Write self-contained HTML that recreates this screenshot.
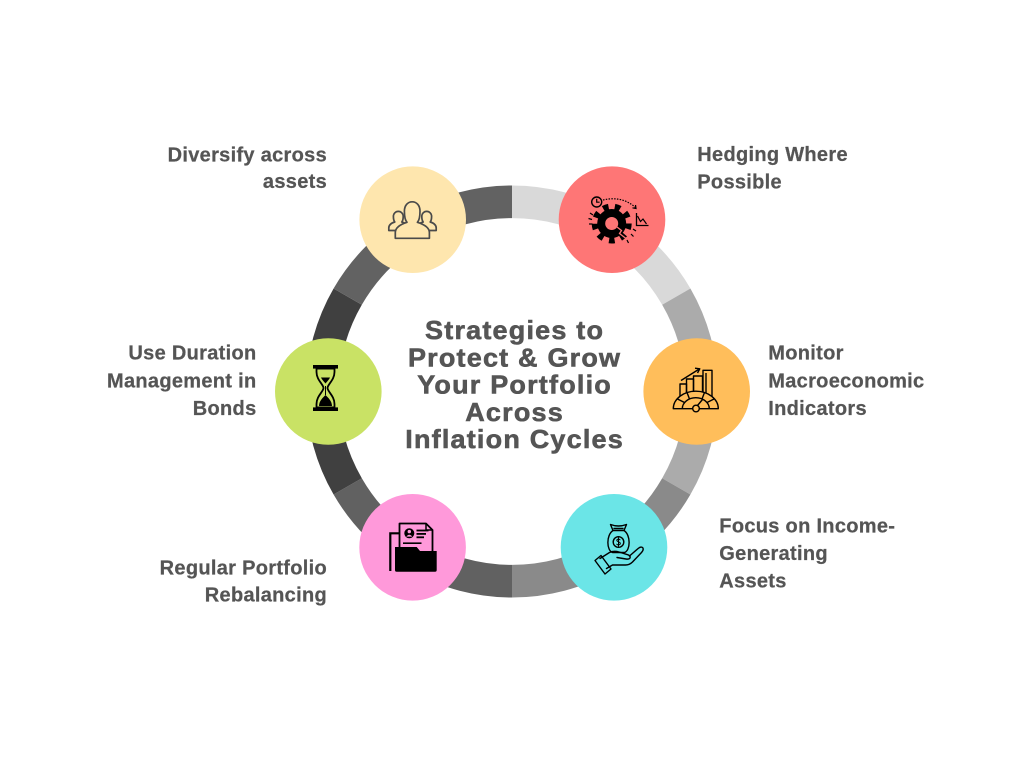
<!DOCTYPE html>
<html>
<head>
<meta charset="utf-8">
<style>
  html,body{margin:0;padding:0;background:#ffffff;}
  body{width:1024px;height:768px;overflow:hidden;}
  svg{display:block;}
  .lbl{font-family:"Liberation Sans",Arial,sans-serif;font-weight:bold;font-size:20px;fill:#555555;letter-spacing:0.3px;stroke:#555555;stroke-width:0.25px;}
  .ttl{font-family:"Liberation Sans",Arial,sans-serif;font-weight:bold;font-size:27px;fill:#555555;letter-spacing:1.2px;stroke:#555555;stroke-width:0.6px;}
</style>
</head>
<body>
<svg width="1024" height="768" viewBox="0 0 1024 768" xmlns="http://www.w3.org/2000/svg">
  <rect width="1024" height="768" fill="#ffffff"/>

  <!-- Ring segments (center 512,391.5 r 189.7) -->
  <g fill="none" stroke-width="32.6">
    <path d="M512 201.8 A189.7 189.7 0 0 1 676.3 296.65" stroke="#d9d9d9"/>
    <path d="M676.3 296.65 A189.7 189.7 0 0 1 676.3 486.35" stroke="#ababab"/>
    <path d="M676.3 486.35 A189.7 189.7 0 0 1 512 581.2" stroke="#8a8a8a"/>
    <path d="M512 581.2 A189.7 189.7 0 0 1 347.7 486.35" stroke="#616161"/>
    <path d="M347.7 486.35 A189.7 189.7 0 0 1 347.7 296.65" stroke="#404040"/>
    <path d="M347.7 296.65 A189.7 189.7 0 0 1 512 201.8" stroke="#626262"/>
  </g>

  <!-- Node circles -->
  <circle cx="412.7" cy="219.7" r="53.3" fill="#fee6ae"/>
  <circle cx="612" cy="219.7" r="53.3" fill="#fe7676"/>
  <circle cx="696.7" cy="391.5" r="53.3" fill="#ffbe5b"/>
  <circle cx="614" cy="547.3" r="53.3" fill="#6be5e7"/>
  <circle cx="412.6" cy="547.3" r="53.3" fill="#ff99da"/>
  <circle cx="328.3" cy="391.5" r="53.3" fill="#c9e265"/>

  <!-- Yellow: people icon -->
  <g stroke="#4a4a4a" stroke-width="1.7" fill="#fee6ae" stroke-linejoin="round">
    <path d="M396 230.5 H388.8 V228 C388.8 224.8 391.5 223 394.8 222 C393.6 220.5 393.4 218.5 393.4 216.5 C393.4 213.5 395.6 211.4 398.3 211.4 C401 211.4 403.2 213.5 403.2 216.5 C403.2 218.5 403 220.5 401.8 222 C403.5 222.5 404.6 223 405.5 223.8"/>
    <path d="M429 230.5 H436.2 V228 C436.2 224.8 433.5 223 430.2 222 C431.4 220.5 431.6 218.5 431.6 216.5 C431.6 213.5 429.4 211.4 426.7 211.4 C424 211.4 421.8 213.5 421.8 216.5 C421.8 218.5 422 220.5 423.2 222 C421.5 222.5 420.4 223 419.5 223.8"/>
    <path d="M395.3 238.3 V232.5 C395.3 227 401 224.2 407 222.3 C404.8 219.8 404.4 215 404.4 211.2 C404.4 205.3 407.8 201.8 412.2 201.8 C416.6 201.8 420 205.3 420 211.2 C420 215 419.6 219.8 417.4 222.3 C423.4 224.2 429.4 227 429.4 232.5 V238.3 Z"/>
  </g>

  <!-- Red: gear icon -->
  <g>
    <circle cx="611.7" cy="223.5" r="14.5" fill="#000"/>
    <circle cx="611.7" cy="223.5" r="17" fill="none" stroke="#000" stroke-width="6" stroke-dasharray="5.6 6.27"/>
    <circle cx="611.7" cy="223.5" r="6.5" fill="#fe7676"/>
    <polyline points="617,227 621.5,230.5 619.5,233.5 626,238.5" fill="none" stroke="#fe7676" stroke-width="1.3"/>
    <circle cx="596.7" cy="202" r="5" fill="none" stroke="#000" stroke-width="1.4"/>
    <path d="M596.7 198.8 V202.2 H599.6" fill="none" stroke="#000" stroke-width="1.2"/>
    <path d="M603 200 Q622 195.5 635.5 207.5" fill="none" stroke="#000" stroke-width="1.2" stroke-dasharray="1.5 1.3"/>
    <path d="M632.5 207.8 L636 208.5 L635.5 205" fill="none" stroke="#000" stroke-width="1.2"/>
    <path d="M636.5 213 V225.5 H648.5" fill="none" stroke="#000" stroke-width="1.3"/>
    <polyline points="637.5,216 640.5,221.5 643,219 646.5,224" fill="none" stroke="#000" stroke-width="1.2"/>
    <g stroke="#000" stroke-width="1.2">
      <line x1="590" y1="213" x2="593" y2="215"/>
      <line x1="588.5" y1="218.5" x2="592" y2="219.5"/>
      <line x1="589" y1="224" x2="592.5" y2="224"/>
      <line x1="633" y1="229" x2="636" y2="231"/>
      <line x1="631" y1="234" x2="633.5" y2="236.5"/>
      <line x1="627" y1="240" x2="628.5" y2="243"/>
    </g>
  </g>

  <!-- Orange: dial + bars icon -->
  <g stroke="#000" stroke-width="1.4" fill="none" stroke-linejoin="round">
    <rect x="680" y="384" width="6.5" height="22"/>
    <rect x="686.5" y="379" width="7" height="27"/>
    <rect x="693.5" y="376" width="9" height="30"/>
    <rect x="703" y="370.3" width="9" height="36"/>
    <line x1="706" y1="373" x2="706" y2="398"/>
    <line x1="681" y1="380.5" x2="698.5" y2="369.5"/>
    <path d="M695 368.2 L699.8 368.8 L697.5 373" />
    <path d="M673.3 408.7 A22.5 17.5 0 0 1 718.3 408.7 Z" fill="#ffbe5b"/>
    <path d="M682.3 408.7 A13.5 11 0 0 1 709.3 408.7"/>
    <line x1="677.5" y1="399" x2="684.5" y2="402.5"/>
    <line x1="687" y1="392.5" x2="689.5" y2="399"/>
    <line x1="704.5" y1="392.5" x2="702" y2="399"/>
    <line x1="714" y1="399" x2="707" y2="402.5"/>
    <line x1="697.5" y1="405.5" x2="702.5" y2="399.5"/>
    <circle cx="696" cy="408.5" r="3.3" fill="#ffbe5b"/>
  </g>

  <!-- Cyan: hand + money bag -->
  <g stroke="#000" stroke-width="1.4" fill="none" stroke-linejoin="round" stroke-linecap="round">
    <path d="M613 530.5 C606 535 606.5 550.5 612.5 552.5 H624.5 C630.5 550.5 631 535 624 530.5 Z"/>
    <path d="M613 530.5 L610.5 524.5 Q618.5 527.5 626.5 524.5 L624 530.5"/>
    <line x1="614" y1="528.5" x2="623" y2="528.5"/>
    <circle cx="618.5" cy="542" r="5.3"/>
    <path d="M620 539.8 C619.5 538.8 617 538.8 616.8 540.3 C616.6 541.8 620.4 541.6 620.3 543.5 C620.2 545.2 617.3 545.2 616.8 544.2 M618.5 537.8 V546.2" stroke-width="1"/>
    <path d="M600 558.5 L609.5 552.5 Q614 550.5 619 552 L628 554.8 Q631 556 630 558 Q629 559.5 626 559 L617 557.5"/>
    <path d="M629.5 556 L638 548.6 Q641 546 642.8 547.8 Q644 549.8 641.5 552.5 L632.5 562 Q629.5 565 625.5 565 H612.5 L606.5 568.5"/>
    <path d="M595 560.5 L601 555.5 L611 569 L605 574 Z"/>
  </g>

  <!-- Pink: document folder -->
  <g>
    <path d="M390.3 571 V533.3 H399.5" fill="none" stroke="#000" stroke-width="2.2"/>
    <path d="M399.5 523.5 H426 L432.5 530 V552 H399.5 Z" fill="#ff99da" stroke="#000" stroke-width="1.8" stroke-linejoin="round"/>
    <path d="M426 523.5 V530 H432.5" fill="none" stroke="#000" stroke-width="1.5"/>
    <circle cx="409.3" cy="533.3" r="5" fill="#000"/>
    <circle cx="409.3" cy="531.6" r="1.7" fill="#ff99da"/>
    <path d="M406.2 536.6 Q409.3 532.8 412.4 536.6 Z" fill="#ff99da"/>
    <rect x="416.5" y="529.6" width="12" height="1.8" fill="#000"/>
    <rect x="416.5" y="533" width="9.5" height="1.8" fill="#000"/>
    <rect x="416.5" y="536.4" width="7.5" height="1.8" fill="#000"/>
    <rect x="403" y="542.4" width="18.5" height="1.6" fill="#000"/>
    <path d="M395 547 H416.7 L420 551 H436.7 V570 Q436.7 571.8 435 571.8 H396.7 Q395 571.8 395 570 Z" fill="#000"/>
  </g>

  <!-- Green: hourglass -->
  <g>
    <rect x="313" y="365" width="25" height="3.6" fill="#000"/>
    <rect x="313" y="407.4" width="25" height="3.6" fill="#000"/>
    <path d="M316.5 368.6 H334.5 V372 C334.5 380 327.5 384.5 327.5 388 C327.5 391.5 334.5 396 334.5 404 V407.4 H316.5 V404 C316.5 396 323.5 391.5 323.5 388 C323.5 384.5 316.5 380 316.5 372 Z" fill="none" stroke="#000" stroke-width="1.8" stroke-linejoin="round"/>
    <path d="M319 406 H332 C332 401 328 397.5 325.5 395 C323 397.5 319 401 319 406 Z" fill="#000"/>
    <path d="M321 377.5 H330 C329 380 326.5 382 325.5 383.5 C324.5 382 322 380 321 377.5 Z" fill="#000"/>
    <line x1="325.5" y1="386" x2="325.5" y2="395" stroke="#000" stroke-width="1"/>
  </g>

  <!-- Center title -->
  <g text-anchor="middle">
    <text class="ttl" transform="translate(514.6,339) scale(1,0.95)">Strategies to</text>
    <text class="ttl" transform="translate(514.6,366.3) scale(1,0.95)">Protect &amp; Grow</text>
    <text class="ttl" transform="translate(514.6,393.5) scale(1,0.95)">Your Portfolio</text>
    <text class="ttl" transform="translate(514.6,420.8) scale(1,0.95)">Across</text>
    <text class="ttl" transform="translate(514.6,448) scale(1,0.95)">Inflation Cycles</text>
  </g>

  <!-- Labels -->
  <g text-anchor="end">
    <text class="lbl" x="327" y="161.7">Diversify across</text>
    <text class="lbl" x="327" y="188">assets</text>

    <text class="lbl" x="256.5" y="359.3">Use Duration</text>
    <text class="lbl" x="256.5" y="387.3">Management in</text>
    <text class="lbl" x="256.5" y="415">Bonds</text>

    <text class="lbl" x="327" y="574.3">Regular Portfolio</text>
    <text class="lbl" x="327" y="601.7">Rebalancing</text>
  </g>
  <g text-anchor="start">
    <text class="lbl" x="697.3" y="161">Hedging Where</text>
    <text class="lbl" x="697.3" y="188.3">Possible</text>

    <text class="lbl" x="768.3" y="359.3">Monitor</text>
    <text class="lbl" x="768.3" y="387.3">Macroeconomic</text>
    <text class="lbl" x="768.3" y="415">Indicators</text>

    <text class="lbl" x="719.3" y="532.7">Focus on Income-</text>
    <text class="lbl" x="719.3" y="560">Generating</text>
    <text class="lbl" x="719.3" y="587.7">Assets</text>
  </g>
</svg>
</body>
</html>
